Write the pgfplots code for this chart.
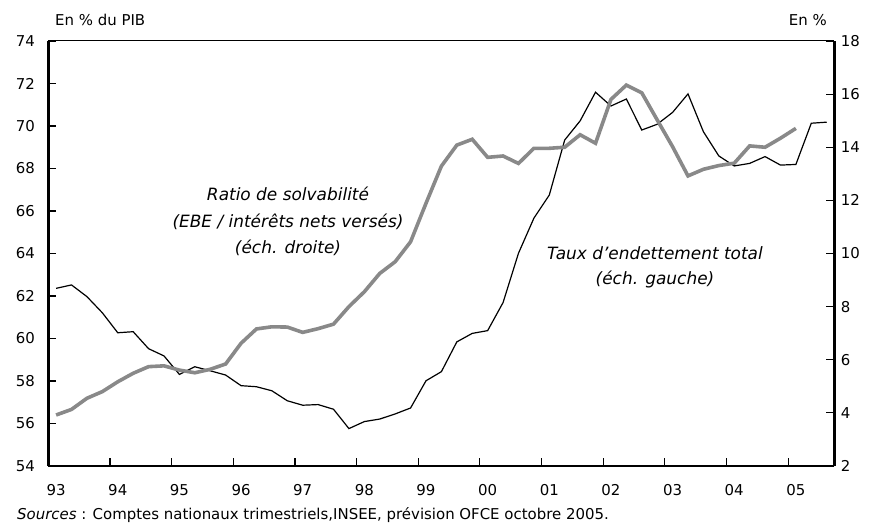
\documentclass[border=0pt]{standalone}
\usepackage{fontspec}
\setmainfont{DejaVu Sans}
\usepackage{pgfplots}
\pgfplotsset{compat=1.18}
\definecolor{greyline}{RGB}{137,137,137}
\begin{document}
\begin{tikzpicture}[x=1bp,y=1bp]
\useasboundingbox (0,0) rectangle (873,526);
\pgfplotsset{
  every axis/.append style={
    scale only axis, width=786bp, height=425bp,
    at={(48.4bp,60bp)}, anchor=south west,
    xmin=93, xmax=105.75,
    /pgf/number format/assume math mode=true,
    tick label style={font=\fontsize{15}{18}\selectfont},
    major tick length=8bp,
    every tick/.style={black, line width=1.1bp},
    axis line style={-, line width=2.4bp},
  }
}
\begin{axis}[
  axis x line*=bottom, axis y line*=left,
  ymin=54, ymax=74, ytick={54,56,...,74},
  yticklabel style={xshift=-10bp},
  xtick={94,...,105}, xticklabels={},
  extra x ticks={93.125,94.125,95.125,96.125,97.125,98.125,99.125,100.125,101.125,102.125,103.125,104.125,105.125},
  extra x tick labels={93,94,95,96,97,98,99,00,01,02,03,04,05},
  extra x tick style={major tick length=0pt, xticklabel style={yshift=-15bp}},
]
\draw[line width=1bp] (rel axis cs:0,1) -- (rel axis cs:1,1);
\addplot[black, line width=1.2bp, mark=none] coordinates {
(93.125,62.36) (93.375,62.52) (93.625,61.97) (93.875,61.21)
(94.125,60.27) (94.375,60.32) (94.625,59.52) (94.875,59.18)
(95.125,58.31) (95.375,58.67) (95.625,58.48) (95.875,58.28)
(96.125,57.78) (96.375,57.73) (96.625,57.54) (96.875,57.07)
(97.125,56.86) (97.375,56.89) (97.625,56.67) (97.875,55.76)
(98.125,56.09) (98.375,56.21) (98.625,56.45) (98.875,56.73)
(99.125,58.01) (99.375,58.44) (99.625,59.84) (99.875,60.24)
(100.125,60.37) (100.375,61.69) (100.625,64.01) (100.875,65.66)
(101.125,66.75) (101.375,69.34) (101.625,70.24) (101.875,71.59)
(102.125,70.94) (102.375,71.27) (102.625,69.81) (102.875,70.08)
(103.125,70.64) (103.375,71.51) (103.625,69.73) (103.875,68.59)
(104.125,68.12) (104.375,68.24) (104.625,68.56) (104.875,68.16)
(105.125,68.19) (105.375,70.13) (105.625,70.18)
};
\end{axis}
\begin{axis}[
  hide x axis, axis y line*=right,
  ymin=2, ymax=18, ytick={2,4,...,18},
  yticklabel style={xshift=3bp},
]
\addplot[greyline, line width=3.6bp, mark=none] coordinates {
(93.125,3.92) (93.375,4.13) (93.625,4.55) (93.875,4.80)
(94.125,5.17) (94.375,5.49) (94.625,5.74) (94.875,5.77)
(95.125,5.61) (95.375,5.51) (95.625,5.64) (95.875,5.84)
(96.125,6.62) (96.375,7.16) (96.625,7.24) (96.875,7.23)
(97.125,7.03) (97.375,7.17) (97.625,7.34) (97.875,8.00)
(98.125,8.56) (98.375,9.25) (98.625,9.69) (98.875,10.44)
(99.125,11.89) (99.375,13.29) (99.625,14.08) (99.875,14.30)
(100.125,13.62) (100.375,13.67) (100.625,13.39) (100.875,13.96)
(101.125,13.96) (101.375,14.00) (101.625,14.47) (101.875,14.15)
(102.125,15.80) (102.375,16.34) (102.625,16.05) (102.875,15.03)
(103.125,14.02) (103.375,12.92) (103.625,13.17) (103.875,13.31)
(104.125,13.40) (104.375,14.05) (104.625,14.00) (104.875,14.34)
(105.125,14.71)
};
\end{axis}
\node[anchor=west, inner sep=0pt, font=\fontsize{15}{18}\selectfont] at (55,506) {En \% du PIB};
\node[anchor=east, inner sep=0pt, font=\fontsize{15}{18}\selectfont] at (827,506) {En \%};
\node[align=center, inner sep=0pt, font=\fontsize{17}{26.5}\selectfont\itshape] at (288,304.5) {Ratio de solvabilité\\(EBE / intérêts nets versés)\\(éch. droite)};
\node[align=center, inner sep=0pt, font=\fontsize{17}{25}\selectfont\itshape] at (655,258.5) {Taux d'endettement total\\(éch. gauche)};
\node[anchor=base west, inner sep=0pt, font=\fontsize{15}{18}\selectfont] at (17,6) {\textit{Sources} : Comptes nationaux trimestriels,INSEE, prévision OFCE octobre 2005.};
\end{tikzpicture}
\end{document}
